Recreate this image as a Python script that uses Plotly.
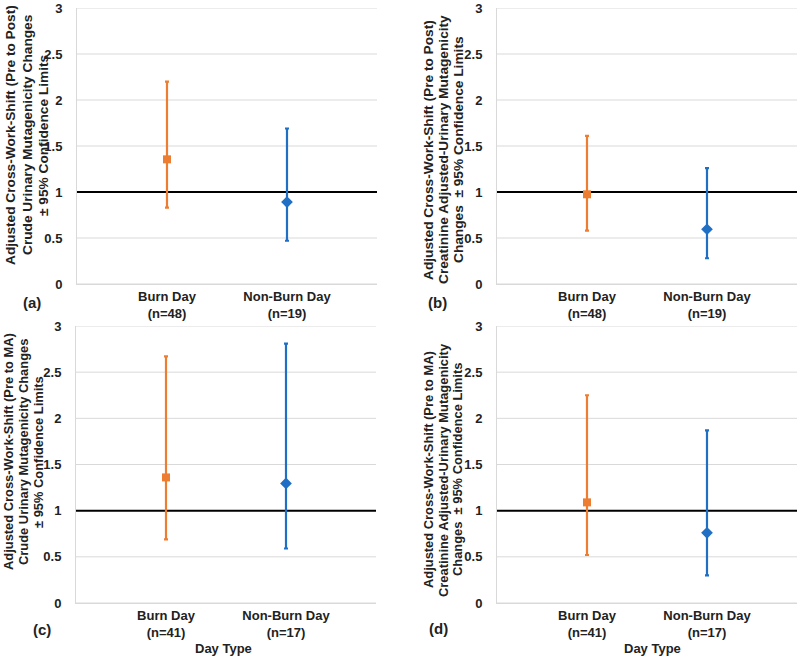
import plotly.graph_objects as go

# ---------------- data ----------------
categories = ["Burn Day", "Non-Burn Day"]

a_est = [1.355, 0.89]
a_lo = [0.83, 0.47]
a_hi = [2.20, 1.69]
a_n = [48, 19]

b_est = [0.975, 0.595]
b_lo = [0.58, 0.28]
b_hi = [1.61, 1.26]
b_n = [48, 19]

c_est = [1.36, 1.295]
c_lo = [0.69, 0.59]
c_hi = [2.67, 2.81]
c_n = [41, 17]

d_est = [1.09, 0.76]
d_lo = [0.52, 0.30]
d_hi = [2.25, 1.87]
d_n = [41, 17]

panel_labels = ["(a)", "(b)", "(c)", "(d)"]
y_titles = [
    ["Adjusted Cross-Work-Shift (Pre to Post)", "Crude Urinary Mutagenicity Changes", "± 95% Confidence Limits"],
    ["Adjusted Cross-Work-Shift (Pre to Post)", "Creatinine Adjusted-Urinary Mutagenicity", "Changes  ± 95% Confidence Limits"],
    ["Adjusted Cross-Work-Shift (Pre to MA)", "Crude Urinary Mutagenicity Changes", "± 95% Confidence Limits"],
    ["Adjusted Cross-Work-Shift (Pre to MA)", "Creatinine Adjusted-Urinary Mutagenicity", "Changes  ± 95% Confidence Limits"],
]
x_title = "Day Type"
ref_value = 1
y_ticks = [0, 0.5, 1, 1.5, 2, 2.5, 3]

# ---------------- styling ----------------
W, H = 800, 657
FONT = "Liberation Sans, Arial, sans-serif"
TXT = "#222222"
GRID = "#d9d9d9"
colors = ["#ED7D31", "#1F6FC5"]
symbols = ["square", "diamond"]
msizes = [8, 9]

# plot areas in pixels (left, right, top, bottom)
areas = [(77, 377, 8, 284), (497, 797, 8, 284), (76, 376, 326, 603), (497, 797, 326, 603)]
# y-title line x centers, y center, font size
ytitle_pos = [([11, 28, 44], 135, 13.7), ([428, 443, 458], 150, 13.7),
              ([8, 23, 38], 452, 12.9), ([428, 443, 457], 470, 12.9)]
label_pos = [(32, 302), (437, 303), (42, 629), (438, 628)]
daytype_pos = [None, None, (223, 648), (652, 648)]

panels = [
    (a_est, a_lo, a_hi, a_n),
    (b_est, b_lo, b_hi, b_n),
    (c_est, c_lo, c_hi, c_n),
    (d_est, d_lo, d_hi, d_n),
]

fig = go.Figure()
layout = dict(
    width=W, height=H,
    margin=dict(l=0, r=0, t=0, b=0, autoexpand=False),
    paper_bgcolor="white", plot_bgcolor="white",
    showlegend=False,
    font=dict(family=FONT, color=TXT),
)
annotations = []
shapes = []

xpos = list(range(len(categories)))

for i, (est, lo, hi, n) in enumerate(panels):
    k = "" if i == 0 else str(i + 1)
    xa, ya = "x" + k, "y" + k
    l, r, t, b = areas[i]
    layout["xaxis" + k] = dict(
        domain=[l / W, r / W], anchor=ya, automargin=False,
        range=[-0.75, 1.75], showgrid=False, zeroline=False,
        showline=True, linecolor=GRID, linewidth=1,
        tickvals=xpos,
        ticktext=[f"{c}<br>(n={m})" for c, m in zip(categories, n)],
        tickfont=dict(family=FONT, size=13, color=TXT, weight="bold"),
        ticks="", fixedrange=True,
    )
    layout["yaxis" + k] = dict(
        domain=[1 - b / H, 1 - t / H], anchor=xa, automargin=False,
        range=[0, 3], tickvals=y_ticks, showgrid=False,
        zeroline=False, showline=True, linecolor=GRID,
        linewidth=1, ticks="", ticklabelstandoff=11,
        tickfont=dict(family=FONT, size=13, color=TXT, weight="bold"),
        fixedrange=True,
    )
    # gridlines (drawn as shapes so the reference line can sit on top of them)
    for v in y_ticks:
        shapes.append(dict(type="line", xref=xa + " domain", yref=ya,
                           x0=0, x1=1, y0=v, y1=v,
                           line=dict(color=GRID, width=1), layer="below"))
    shapes.append(dict(type="line", xref=xa + " domain", yref=ya,
                       x0=0, x1=1, y0=ref_value, y1=ref_value,
                       line=dict(color="black", width=2), layer="below"))
    for j in range(len(categories)):
        fig.add_trace(go.Scatter(
            x=[xpos[j]], y=[est[j]], xaxis=xa, yaxis=ya, mode="markers",
            marker=dict(symbol=symbols[j], size=msizes[j], color=colors[j]),
            error_y=dict(type="data", symmetric=False,
                         array=[hi[j] - est[j]], arrayminus=[est[j] - lo[j]],
                         color=colors[j], thickness=2.2, width=2),
            hoverinfo="skip",
        ))
    txs, ty, fs = ytitle_pos[i]
    for line_text, tx in zip(y_titles[i], txs):
        annotations.append(dict(
            text=line_text, xref="paper", yref="paper", x=tx / W, y=1 - ty / H,
            xanchor="center", yanchor="middle", textangle=-90, showarrow=False,
            font=dict(family=FONT, size=fs, color=TXT, weight="bold"),
        ))
    lx, ly = label_pos[i]
    annotations.append(dict(
        text=panel_labels[i], xref="paper", yref="paper", x=lx / W, y=1 - ly / H,
        xanchor="center", yanchor="middle", showarrow=False,
        font=dict(family=FONT, size=15, color=TXT, weight="bold"),
    ))
    if daytype_pos[i] is not None:
        dx, dy = daytype_pos[i]
        annotations.append(dict(
            text=x_title, xref="paper", yref="paper", x=dx / W, y=1 - dy / H,
            xanchor="center", yanchor="middle", showarrow=False,
            font=dict(family=FONT, size=13, color=TXT, weight="bold"),
        ))

layout["annotations"] = annotations
layout["shapes"] = shapes
fig.update_layout(**layout)
fig.write_html(
    "out.html",
    config={"displayModeBar": False, "staticPlot": True},
    post_script="document.body.style.margin='0';document.body.style.overflow='hidden';",
)
